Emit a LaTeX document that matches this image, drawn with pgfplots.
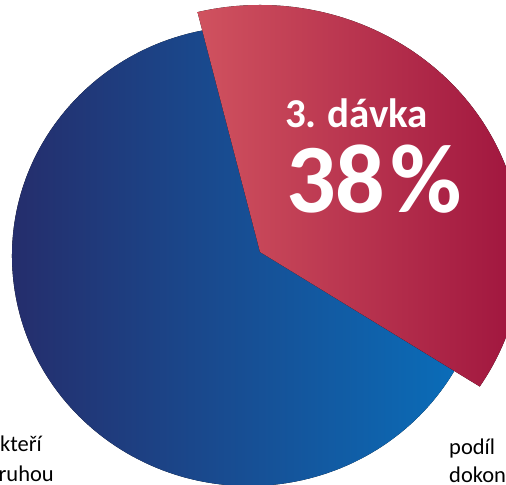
\documentclass[border=0pt]{standalone}
\usepackage{fontspec}
\setmainfont{Carlito}
\usepackage{pgfplots}
\usepackage{pgfplotstable}
\pgfplotsset{compat=1.18}

\definecolor{blueL}{HTML}{262B69}
\definecolor{blueM}{HTML}{1A4B91}
\definecolor{blueR}{HTML}{0A6DB9}
\definecolor{redL}{HTML}{D0525F}
\definecolor{redM}{HTML}{B8344F}
\definecolor{redR}{HTML}{9A0E3A}

% share of people by dose
\pgfplotstableread{
slice value
other 62
third 38
}\piedata

\begin{document}
\begin{tikzpicture}
\pgfplotstablegetelem{0}{value}\of\piedata \let\blueval\pgfplotsretval
\pgfplotstablegetelem{1}{value}\of\piedata \let\redval\pgfplotsretval
% red slice (exploded, a bit larger), blue slice tucked under it
\pgfmathsetmacro\redEnd{103.8}
\pgfmathsetmacro\redStart{\redEnd-3.6*\redval}
\pgfmathsetmacro\bA{\redEnd-5}
\pgfmathsetmacro\bB{\redEnd+3.6*\blueval+5}
\pgfmathsetmacro\rAx{260+262*cos(\redStart)}
\pgfmathsetmacro\rAy{233+247*sin(\redStart)}
\pgfmathsetmacro\bAx{249+237*cos(\bA)}
\pgfmathsetmacro\bAy{229+230*sin(\bA)}
\begin{axis}[
    hide axis,
    x=1bp, y=1bp,
    xmin=0, xmax=506, ymin=0, ymax=485,
    scale only axis,
    clip=false,
]
\coordinate (bbll) at (axis cs:0,0);
\coordinate (bbur) at (axis cs:506,485);
\fill[left color=blueL, middle color=blueM, right color=blueR]
    (axis cs:260,233) -- (axis cs:\bAx,\bAy)
    arc[start angle=\bA, end angle=\bB, x radius=237bp, y radius=230bp] -- cycle;
\fill[left color=redL, middle color=redM, right color=redR]
    (axis cs:260,233) -- (axis cs:\rAx,\rAy)
    arc[start angle=\redStart, end angle=\redEnd, x radius=262bp, y radius=247bp] -- cycle;
\node[anchor=base west, text=white, inner sep=0pt, font=\fontsize{41bp}{41bp}\selectfont\bfseries]
    at (axis cs:285,357) {3.\kern-2bp{} dávka};
\node[anchor=base west, text=white, inner sep=0pt, font=\fontsize{98bp}{98bp}\selectfont\bfseries]
    at (axis cs:286,272) {\redval\kern5bp\%};
\node[anchor=base east, inner sep=0pt, font=\fontsize{22.5bp}{22.5bp}\selectfont]
    at (axis cs:42,33) {kteří};
\node[anchor=base east, inner sep=0pt, font=\fontsize{22.5bp}{22.5bp}\selectfont]
    at (axis cs:54,3) {ruhou};
\node[anchor=base west, inner sep=0pt, font=\fontsize{22.5bp}{22.5bp}\selectfont]
    at (axis cs:449,30) {podíl};
\node[anchor=base west, inner sep=0pt, font=\fontsize{22.5bp}{22.5bp}\selectfont]
    at (axis cs:449,2) {dokon};
\end{axis}
\pgfresetboundingbox
\useasboundingbox (bbll) rectangle (bbur);
\end{tikzpicture}
\end{document}
